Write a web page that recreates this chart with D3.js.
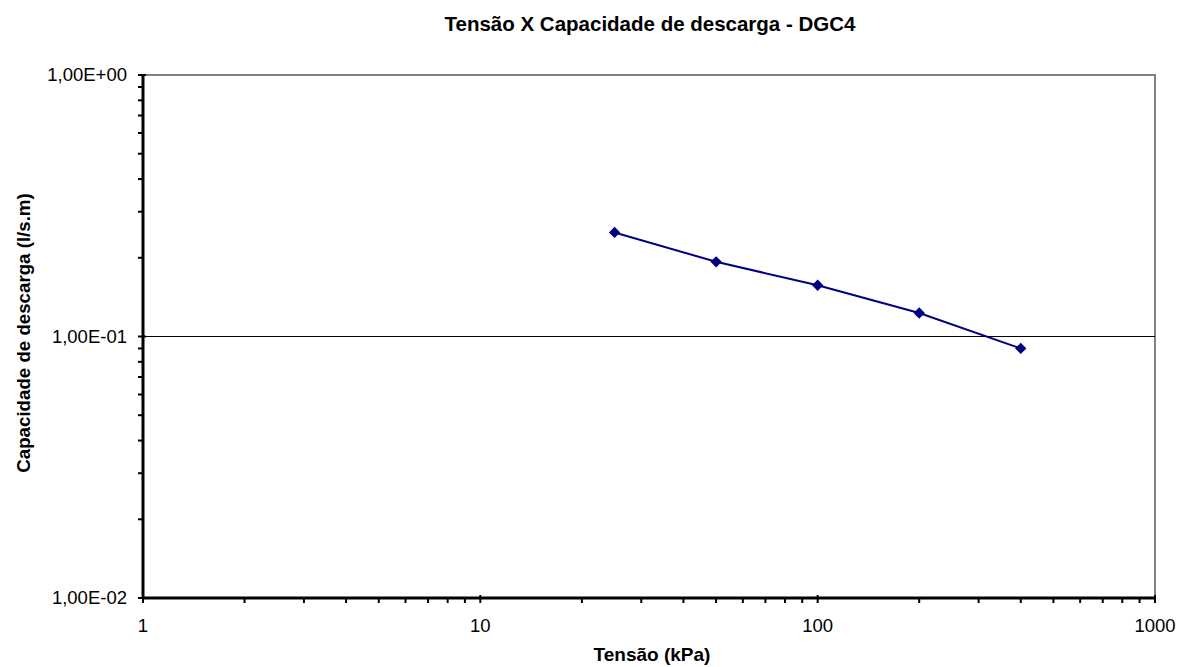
<!DOCTYPE html>
<html>
<head>
    <meta charset="utf-8" />
    <script src="https://cdn.jsdelivr.net/npm/d3@7"></script>
    <style>
        body { margin: 0; background: #fff; }
        text { font-family: "Liberation Sans", Arial, sans-serif; }
    </style>
</head>
<body>
    <script>
        // data
        var tensao = [25, 50, 100, 200, 400];
        var capacidade = [0.25, 0.193, 0.157, 0.123, 0.090];
        var xTicks = [1, 10, 100, 1000];
        var yTicks = [0.01, 0.1, 1];
        var yTickLabels = ["1,00E-02", "1,00E-01", "1,00E+00"];

        var width = 1178,
            height = 667,
            margin = { top: 75, right: 23, bottom: 69, left: 143 };

        var x = d3.scaleLog()
            .domain([1, 1000])
            .range([margin.left, width - margin.right]);

        var y = d3.scaleLog()
            .domain([0.01, 1])
            .range([height - margin.bottom, margin.top]);

        var svg = d3.select("body").append("svg")
            .attr("width", width)
            .attr("height", height);

        // minor ticks for every 2..9 x 10^k
        function minorTicks(lo, hi) {
            var out = [];
            for (var e = Math.log10(lo); e < Math.log10(hi); e++) {
                for (var m = 2; m <= 9; m++) out.push(m * Math.pow(10, e));
            }
            return out;
        }

        // plot area border (gray top / right)
        svg.append("rect")
            .attr("x", x(1))
            .attr("y", y(1))
            .attr("width", x(1000) - x(1))
            .attr("height", y(0.01) - y(1))
            .attr("fill", "#fff")
            .attr("stroke", "#808080")
            .attr("stroke-width", 2);

        // major gridline
        svg.append("line")
            .attr("x1", x(1)).attr("x2", x(1000))
            .attr("y1", y(0.1)).attr("y2", y(0.1))
            .attr("stroke", "#000")
            .attr("stroke-width", 1);

        // x axis
        var xAxis = svg.append("g")
            .attr("transform", "translate(0," + y(0.01) + ")");
        xAxis.selectAll(".minor")
            .data(minorTicks(1, 1000))
            .enter().append("line")
            .attr("x1", function (d) { return x(d); })
            .attr("x2", function (d) { return x(d); })
            .attr("y1", 0).attr("y2", 5)
            .attr("stroke", "#000").attr("stroke-width", 2);
        xAxis.selectAll(".major")
            .data(xTicks)
            .enter().append("line")
            .attr("x1", function (d) { return x(d); })
            .attr("x2", function (d) { return x(d); })
            .attr("y1", -3).attr("y2", 5)
            .attr("stroke", "#000").attr("stroke-width", 2);
        xAxis.append("line")
            .attr("x1", x(1) - 1).attr("x2", x(1000) + 1)
            .attr("stroke", "#000").attr("stroke-width", 3);
        xAxis.selectAll("text")
            .data(xTicks)
            .enter().append("text")
            .attr("x", function (d) { return x(d); })
            .attr("y", 34)
            .attr("text-anchor", "middle")
            .attr("font-size", "18.5px")
            .text(function (d) { return d; });

        // y axis
        var yAxis = svg.append("g")
            .attr("transform", "translate(" + x(1) + ",0)");
        yAxis.selectAll(".minor")
            .data(minorTicks(0.01, 1))
            .enter().append("line")
            .attr("y1", function (d) { return y(d); })
            .attr("y2", function (d) { return y(d); })
            .attr("x1", 0).attr("x2", -5)
            .attr("stroke", "#000").attr("stroke-width", 2);
        yAxis.selectAll(".major")
            .data(yTicks)
            .enter().append("line")
            .attr("y1", function (d) { return y(d); })
            .attr("y2", function (d) { return y(d); })
            .attr("x1", 3).attr("x2", -5)
            .attr("stroke", "#000").attr("stroke-width", 2);
        yAxis.append("line")
            .attr("y1", y(1) - 1).attr("y2", y(0.01) + 1)
            .attr("stroke", "#000").attr("stroke-width", 3);
        yAxis.selectAll("text")
            .data(yTicks)
            .enter().append("text")
            .attr("x", -16)
            .attr("y", function (d) { return y(d); })
            .attr("dy", "0.35em")
            .attr("text-anchor", "end")
            .attr("font-size", "18.5px")
            .text(function (d, i) { return yTickLabels[i]; });

        // series
        var line = d3.line()
            .x(function (d) { return x(d[0]); })
            .y(function (d) { return y(d[1]); });
        var pts = d3.zip(tensao, capacidade);

        svg.append("path")
            .datum(pts)
            .attr("d", line)
            .attr("fill", "none")
            .attr("stroke", "#000080")
            .attr("stroke-width", 2);

        svg.selectAll(".pt")
            .data(pts)
            .enter().append("path")
            .attr("class", "pt")
            .attr("d", d3.symbol().type(d3.symbolSquare).size(64))
            .attr("transform", function (d) {
                return "translate(" + x(d[0]) + "," + y(d[1]) + ") rotate(45)";
            })
            .attr("fill", "#000080");

        // titles
        svg.append("text")
            .attr("x", 650)
            .attr("y", 31)
            .attr("text-anchor", "middle")
            .attr("font-size", "20.5px")
            .attr("font-weight", "bold")
            .text("Tensão X Capacidade de descarga - DGC4");

        svg.append("text")
            .attr("x", 652)
            .attr("y", 661)
            .attr("text-anchor", "middle")
            .attr("font-size", "19px")
            .attr("font-weight", "bold")
            .text("Tensão (kPa)");

        svg.append("text")
            .attr("transform", "translate(30," + 333 + ") rotate(-90)")
            .attr("text-anchor", "middle")
            .attr("font-size", "18.7px")
            .attr("font-weight", "bold")
            .text("Capacidade de descarga (l/s.m)");
    </script>
</body>
</html>
